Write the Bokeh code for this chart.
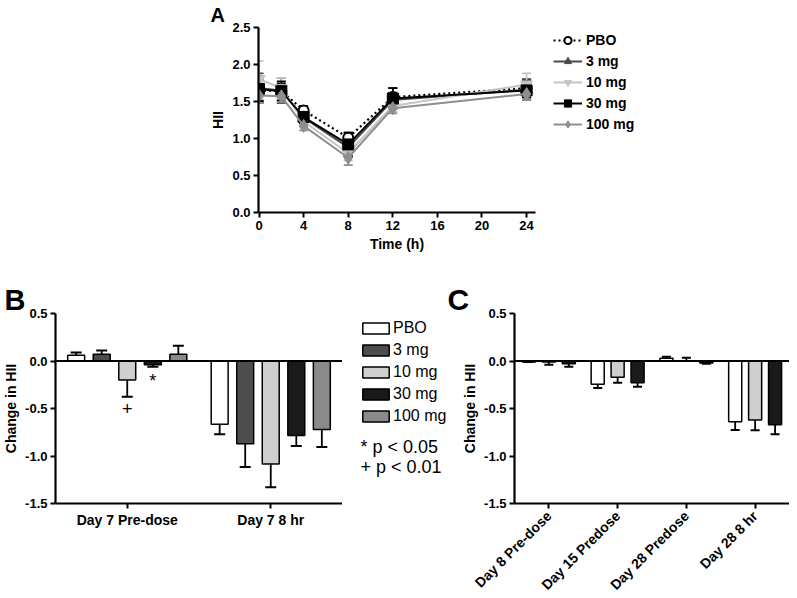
import math
from bokeh.plotting import figure
from bokeh.models import (Range1d, FixedTicker, NumeralTickFormatter, Legend, LegendItem,
                          Whisker, TeeHead, ColumnDataSource, Span, Label, Title)
from bokeh.core.properties import value
from bokeh.layouts import column, row
from bokeh.embed import file_html
from bokeh.resources import INLINE

FONT = "Liberation Sans"

# ---------------- Panel A data ----------------
times = [0, 2, 4, 8, 12, 24]
time_ticks = [0, 4, 8, 12, 16, 20, 24]
hii_ticks = [0.0, 0.5, 1.0, 1.5, 2.0, 2.5]
a_series = ["PBO", "3 mg", "10 mg", "30 mg", "100 mg"]
hii_pbo = [1.65, 1.64, 1.38, 1.01, 1.56, 1.68]
hii_3mg = [1.68, 1.65, 1.28, 0.88, 1.52, 1.66]
hii_10mg = [1.80, 1.68, 1.23, 0.80, 1.44, 1.73]
hii_30mg = [1.67, 1.64, 1.29, 0.92, 1.54, 1.65]
hii_100mg = [1.58, 1.57, 1.17, 0.74, 1.41, 1.60]
sem_pbo = [0.14, 0.10, 0.06, 0.07, 0.12, 0.12]
sem_3mg = [0.20, 0.17, 0.08, 0.12, 0.10, 0.14]
sem_10mg = [0.25, 0.14, 0.08, 0.10, 0.08, 0.15]
sem_30mg = [0.17, 0.13, 0.08, 0.16, 0.14, 0.12]
sem_100mg = [0.10, 0.08, 0.06, 0.10, 0.07, 0.08]

# ---------------- Panel B data ----------------
b_days = ["Day 7 Pre-dose", "Day 7 8 hr"]
b_series = ["PBO", "3 mg", "10 mg", "30 mg", "100 mg"]
b_pbo = [0.06, -0.665]
b_3mg = [0.07, -0.87]
b_10mg = [-0.20, -1.085]
b_30mg = [-0.04, -0.785]
b_100mg = [0.07, -0.72]
b_err_pbo = [0.03, 0.105]
b_err_3mg = [0.04, 0.245]
b_err_10mg = [0.175, 0.245]
b_err_30mg = [0.02, 0.11]
b_err_100mg = [0.09, 0.185]
change_ticks = [-1.5, -1.0, -0.5, 0.0, 0.5]
b_sig_marks = ["+", "*"]
b_sig_series = ["10 mg", "30 mg"]
b_sig_day = ["Day 7 Pre-dose", "Day 7 Pre-dose"]
b_sig_y = [-0.50, -0.21]
b_notes = ["* p < 0.05", "+ p < 0.01"]
b_notes_y = [-0.90, -1.12]

# ---------------- Panel C data ----------------
c_days = ["Day 8 Pre-dose", "Day 15 Predose", "Day 28 Predose", "Day 28 8 hr"]
c_series = ["PBO", "10 mg", "30 mg"]
c_pbo = [-0.01, -0.245, 0.03, -0.64]
c_10mg = [-0.01, -0.17, 0.0, -0.62]
c_30mg = [-0.03, -0.23, -0.02, -0.67]
c_err_pbo = [0.0, 0.04, 0.015, 0.085]
c_err_10mg = [0.03, 0.06, 0.035, 0.11]
c_err_30mg = [0.03, 0.04, 0.01, 0.10]

# ---------------- styles ----------------
a_colors = {"PBO": "black", "3 mg": "#4a4a4a", "10 mg": "#c4c4c4", "30 mg": "#000000", "100 mg": "#8e8e8e"}
a_markers = {"PBO": "circle", "3 mg": "triangle", "10 mg": "inverted_triangle", "30 mg": "square", "100 mg": "diamond"}
a_sizes = {"PBO": 10, "3 mg": 12, "10 mg": 12, "30 mg": 11, "100 mg": 13}
bar_fill = {"PBO": "white", "3 mg": "#4d4d4d", "10 mg": "#cfcfcf", "30 mg": "#1a1a1a", "100 mg": "#8a8a8a"}


def style_axes(p, tick_fs="13px", label_fs="14px"):
    for ax in (p.xaxis[0], p.yaxis[0]):
        ax.axis_line_width = 2.2
        ax.axis_line_color = "black"
        ax.major_tick_line_width = 2
        ax.major_tick_out = 5
        ax.major_tick_in = 0
        ax.minor_tick_line_color = None
        ax.major_label_text_font = FONT
        ax.major_label_text_font_style = "bold"
        ax.major_label_text_font_size = tick_fs
        ax.major_label_text_color = "black"
        ax.major_label_standoff = 3
        ax.axis_label_text_font = FONT
        ax.axis_label_text_font_style = "bold"
        ax.axis_label_text_font_size = label_fs
        ax.axis_label_text_color = "black"
        ax.axis_label_standoff = 3
    p.xgrid.visible = False
    p.ygrid.visible = False
    p.outline_line_color = None


def panel_title(p, letter, size, offset, standoff):
    p.add_layout(Title(text=letter, align="left", offset=offset, standoff=standoff,
                       text_font=FONT, text_font_style="bold", text_font_size=size,
                       text_color="black"), "above")


def blank_fig(frame_w, frame_h, top, bottom, x_range, y_range):
    f = figure(frame_width=frame_w, frame_height=frame_h, min_border_left=0, min_border_right=0,
               min_border_top=top, min_border_bottom=bottom, x_range=x_range, y_range=y_range,
               x_axis_type=None, y_axis_type=None, output_backend="svg", toolbar_location=None)
    f.outline_line_color = None
    f.xgrid.visible = False
    f.ygrid.visible = False
    return f


# ================= Panel A =================
A_TOP, A_H, A_BOT = 27, 185, 45
A_FW, A_GAP, LEGA_W = 277, 8, 120
a_x0, a_x1 = -0.05, 24.8
A_UNIT = A_FW / (a_x1 - a_x0)
pA = figure(frame_width=A_FW, frame_height=A_H, min_border_left=258, min_border_top=A_TOP,
            min_border_bottom=A_BOT, min_border_right=A_GAP,
            x_range=Range1d(a_x0, a_x1), y_range=Range1d(0, 2.5),
            output_backend="svg", toolbar_location=None)
style_axes(pA)
pA.xaxis.ticker = FixedTicker(ticks=time_ticks)
pA.yaxis.ticker = FixedTicker(ticks=hii_ticks)
pA.yaxis.formatter = NumeralTickFormatter(format="0.0")
pA.xaxis.axis_label = "Time (h)"
pA.yaxis.axis_label = "HII"
panel_title(pA, "A", "20px", -48, 3)

# legend panel continues panel A's scales to the right (the data lie left of it)
legA_fig = blank_fig(LEGA_W, A_H, A_TOP, A_BOT,
                     Range1d(a_x1 + A_GAP / A_UNIT, a_x1 + (A_GAP + LEGA_W) / A_UNIT), pA.y_range)

a_vals = [hii_pbo, hii_3mg, hii_10mg, hii_30mg, hii_100mg]
a_sems = [sem_pbo, sem_3mg, sem_10mg, sem_30mg, sem_100mg]
items = []
for name, vals, sems in zip(a_series, a_vals, a_sems):
    col = a_colors[name]
    src = ColumnDataSource(dict(t=times, v=vals,
                                lo=[v - s for v, s in zip(vals, sems)],
                                hi=[v + s for v, s in zip(vals, sems)]))
    pA.add_layout(Whisker(source=src, base="t", lower="lo", upper="hi", dimension="height",
                          line_color=col, line_width=1.6, level="underlay",
                          upper_head=TeeHead(size=9, line_color=col, line_width=1.8),
                          lower_head=TeeHead(size=9, line_color=col, line_width=1.8)))
    if name == "PBO":
        line_kw = dict(line_color=col, line_width=2.2, line_dash="2 3")
        mk_kw = dict(marker=a_markers[name], size=a_sizes[name], fill_color="white",
                     line_color="black", line_width=2)
    else:
        line_kw = dict(line_color=col, line_width=2)
        mk_kw = dict(marker=a_markers[name], size=a_sizes[name], fill_color=col,
                     line_color=col, line_width=1)
    pA.line("t", "v", source=src, **line_kw)
    pA.scatter("t", "v", source=src, **mk_kw)
    lr = legA_fig.line("t", "v", source=src, **line_kw)
    sr = legA_fig.scatter("t", "v", source=src, **mk_kw)
    items.append(LegendItem(label=name, renderers=[lr, sr]))

legA = Legend(items=items, location=(10, 79), padding=0, margin=0, spacing=3,
              glyph_width=29, glyph_height=18, label_height=18, label_standoff=4,
              label_text_font=FONT, label_text_font_style="bold", label_text_font_size="14px",
              label_text_color="black", border_line_color=None, background_fill_alpha=0)
legA_fig.add_layout(legA)

# ================= Panel B =================
B_TOP, B_H, B_BOT = 56, 190, 92
B_FW = 287
B_UNIT = B_FW / len(b_days)
b_step, b_width = 0.178, 0.118
pB = figure(frame_width=B_FW, frame_height=B_H, min_border_left=53, min_border_top=B_TOP,
            min_border_bottom=B_BOT, min_border_right=0,
            x_range=Range1d(0, len(b_days)), y_range=Range1d(-1.5, 0.5),
            output_backend="svg", toolbar_location=None)
style_axes(pB)
pB.xaxis.ticker = FixedTicker(ticks=[i + 0.5 for i in range(len(b_days))])
pB.xaxis.major_label_overrides = {i + 0.5: d for i, d in enumerate(b_days)}
pB.xaxis.major_label_text_font_size = "14px"
pB.yaxis.ticker = FixedTicker(ticks=change_ticks)
pB.yaxis.formatter = NumeralTickFormatter(format="0.0")
pB.yaxis.axis_label = "Change in HII"
panel_title(pB, "B", "29px", -51, -4)


def draw_bars(p, days, series, values, errors, fills, step, width, cap):
    n = len(series)
    out = []
    for k, (name, vals, errs) in enumerate(zip(series, values, errors)):
        xs = [i + 0.5 + (k - (n - 1) / 2) * step for i in range(len(days))]
        src = ColumnDataSource(dict(x=xs, top=vals))
        p.vbar(x="x", top="top", bottom=0, width=width, source=src, fill_color=fills[name],
               line_color="black", line_width=1.5)
        out.append((name, src))
        up = dict(x=[], lo=[], hi=[])
        dn = dict(x=[], lo=[], hi=[])
        for x, v, e in zip(xs, vals, errs):
            if v >= 0:
                up["x"].append(x); up["lo"].append(v); up["hi"].append(v + e)
            else:
                dn["x"].append(x); dn["lo"].append(v - e); dn["hi"].append(v)
        p.add_layout(Whisker(source=ColumnDataSource(up), base="x", lower="lo", upper="hi",
                             line_color="black", line_width=1.8, lower_head=None,
                             upper_head=TeeHead(size=cap, line_color="black", line_width=2)))
        p.add_layout(Whisker(source=ColumnDataSource(dn), base="x", lower="lo", upper="hi",
                             line_color="black", line_width=1.8, upper_head=None,
                             lower_head=TeeHead(size=cap, line_color="black", line_width=2)))
    p.add_layout(Span(location=0, dimension="width", line_color="black", line_width=2.2))
    return out


b_bars = draw_bars(pB, b_days, b_series, [b_pbo, b_3mg, b_10mg, b_30mg, b_100mg],
                   [b_err_pbo, b_err_3mg, b_err_10mg, b_err_30mg, b_err_100mg],
                   bar_fill, b_step, b_width, 11)

nB = len(b_series)
for mark, ser, day, yv in zip(b_sig_marks, b_sig_series, b_sig_day, b_sig_y):
    k = b_series.index(ser)
    xv = b_days.index(day) + 0.5 + (k - (nB - 1) / 2) * b_step
    pB.add_layout(Label(x=xv, y=yv, text=mark, text_font=FONT, text_font_size="18px",
                        text_color="black", text_align="center", text_baseline="middle"))

# legend + notes panel for B (continues panel B's scales; the bars lie left of it)
LEGB_W = 104
legB_fig = blank_fig(LEGB_W, B_H, B_TOP, B_BOT,
                     Range1d(len(b_days), len(b_days) + LEGB_W / B_UNIT), pB.y_range)
legB_items = []
for name, src in b_bars:
    # legend swatch carrier: box at each bar top (outside this panel's visible x range)
    sw = legB_fig.rect(x="x", y="top", width=b_width, height=b_width, source=src,
                       fill_color=bar_fill[name], line_color="black", line_width=1.5)
    legB_items.append(LegendItem(label=name, renderers=[sw]))
legB = Legend(items=legB_items, location=(17, 78), padding=0, margin=0, spacing=3,
              glyph_width=33, glyph_height=14, label_height=19, label_standoff=1,
              label_text_font=FONT, label_text_font_size="16px", label_text_color="black",
              border_line_color=None, background_fill_alpha=0)
legB_fig.add_layout(legB)
legB_fig.text(x=[len(b_days) + 0.125] * len(b_notes), y=b_notes_y, text=b_notes,
              text_font=value(FONT), text_font_size="18px", text_color="black",
              text_baseline="middle", text_align="left")

# ================= Panel C =================
c_step, c_width = 0.29, 0.19
pC = figure(frame_width=275, frame_height=B_H, min_border_left=68, min_border_top=B_TOP,
            min_border_bottom=B_BOT, min_border_right=0,
            x_range=Range1d(0, len(c_days)), y_range=Range1d(-1.5, 0.5),
            output_backend="svg", toolbar_location=None)
style_axes(pC)
pC.xaxis.ticker = FixedTicker(ticks=[i + 0.5 for i in range(len(c_days))])
pC.xaxis.major_label_overrides = {i + 0.5: d for i, d in enumerate(c_days)}
pC.xaxis.major_label_orientation = math.pi / 4
pC.xaxis.major_label_text_font_size = "14px"
pC.xaxis.major_label_standoff = 5
pC.yaxis.ticker = FixedTicker(ticks=change_ticks)
pC.yaxis.formatter = NumeralTickFormatter(format="0.0")
pC.yaxis.axis_label = "Change in HII"
panel_title(pC, "C", "30px", -67, -4)

draw_bars(pC, c_days, c_series, [c_pbo, c_10mg, c_30mg],
          [c_err_pbo, c_err_10mg, c_err_30mg], bar_fill, c_step, c_width, 9)

layout = column(row(pA, legA_fig), row(pB, legB_fig, pC))
open("out.html", "w").write(file_html(layout, INLINE))
